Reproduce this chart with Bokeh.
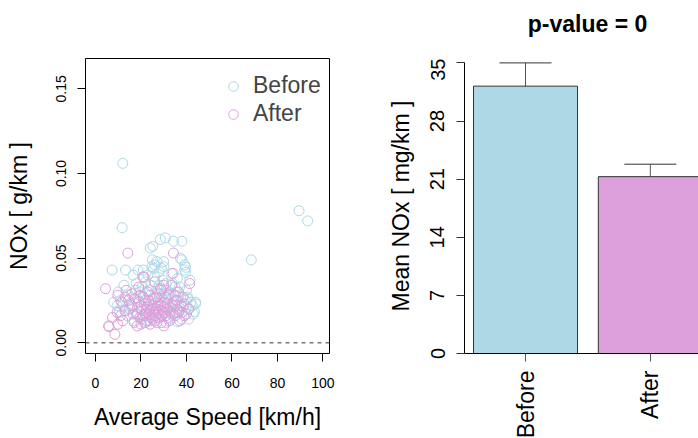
import math
from bokeh.plotting import figure
from bokeh.layouts import row, column
from bokeh.models import (Range1d, FixedTicker, Span, Legend, LegendItem, Whisker,
                          TeeHead, ColumnDataSource, NumeralTickFormatter)
from bokeh.core.properties import value
from bokeh.embed import file_html
from bokeh.resources import INLINE

FONT = "Liberation Sans"

# ---------------- data ----------------
before_speed = [12.0, 11.7, 68.5, 89.5, 93.3,
                24.1, 25.2, 28.5, 30.7, 34.3, 38.0,
                7.3, 13.2, 18.7, 30.0, 30.0, 37.3, 39.2, 39.2, 25.5, 26.0, 24.8, 16.5, 12.5,
                33.5, 36.0, 41.5, 40.0, 22.0, 28.0, 31.5, 35.0,
                11.0, 14.5, 17.0, 19.5, 21.0, 23.5, 26.5, 29.0, 32.0, 34.5, 37.5, 39.5, 42.0,
                44.0, 41.0, 43.0, 38.0, 35.0, 30.5, 27.5, 24.0, 20.0, 16.0, 13.0, 10.5, 18.5,
                22.5, 26.0, 29.5, 33.0, 36.5, 40.5, 15.0, 9.5, 21.5, 31.0, 37.0, 28.5, 25.0, 19.0,
                42.5, 44.0, 43.5, 41.0, 40.5, 39.6, 39.6, 38.0, 36.0, 8.0, 10.0, 12.0, 14.0, 17.5,
                18.0, 20.5, 22.0, 23.0, 24.5, 26.0, 27.0, 29.5, 31.0, 33.0, 34.0, 35.5, 37.0, 38.5,
                36.0, 32.5, 27.0, 24.0, 20.0, 17.0, 22.0, 26.0, 30.0, 34.0, 28.0, 21.0, 25.0, 27.0, 29.0]
before_nox = [0.106, 0.068, 0.049, 0.078, 0.072,
              0.056, 0.057, 0.061, 0.062, 0.060, 0.060,
              0.043, 0.043, 0.043, 0.048, 0.045, 0.050, 0.046, 0.043, 0.044, 0.046, 0.045, 0.040, 0.034,
              0.041, 0.038, 0.037, 0.031, 0.036, 0.034, 0.031, 0.033,
              0.025, 0.028, 0.026, 0.030, 0.027, 0.031, 0.029, 0.027, 0.026, 0.028, 0.027, 0.025, 0.024,
              0.023, 0.020, 0.017, 0.014, 0.018, 0.021, 0.023, 0.020, 0.022, 0.021, 0.019, 0.018, 0.017,
              0.016, 0.018, 0.016, 0.014, 0.022, 0.027, 0.023, 0.022, 0.012, 0.012, 0.019, 0.025, 0.026, 0.024,
              0.022, 0.024, 0.0185, 0.014, 0.026, 0.0446, 0.0416, 0.049, 0.0124, 0.024, 0.030, 0.022, 0.016, 0.031,
              0.035, 0.033, 0.029, 0.040, 0.034, 0.039, 0.032, 0.037, 0.035, 0.029, 0.024, 0.030, 0.033, 0.021,
              0.025, 0.019, 0.015, 0.013, 0.014, 0.013, 0.025, 0.022, 0.029, 0.035, 0.042, 0.043, 0.049, 0.048, 0.044]

after_speed = [4.4, 14.2, 34.3, 41.4, 34.1, 5.8, 8.5, 9.8, 9.5, 20.9, 30.0, 12.0, 11.5, 13.5,
               15.0, 16.5, 17.5, 18.5, 19.5, 20.5, 21.5, 22.0, 22.5, 23.0, 23.5, 24.0, 24.5, 25.0,
               25.5, 26.0, 26.5, 27.0, 27.5, 28.0, 28.5, 29.0, 29.5, 30.5, 31.0, 31.5, 32.0, 32.5,
               33.0, 34.0, 35.0, 35.5, 36.0, 37.0, 38.0, 39.0, 40.0, 41.0, 26.0, 30.0, 23.0, 19.0,
               36.5, 28.0, 21.0, 33.5, 17.0, 20.0, 24.0, 27.0, 29.0, 16.0, 7.5, 38.5,
               5.9, 9.8, 18.3, 22.0, 13.0, 14.5, 16.0, 18.0, 19.0, 20.0, 21.0, 22.5, 23.5, 24.0,
               25.0, 25.5, 26.5, 27.5, 28.0, 29.0, 30.0, 30.5, 31.5, 32.0, 33.0, 34.0, 35.0, 36.5,
               37.5, 39.0, 24.0, 26.0, 31.0, 35.0, 19.5, 13.0, 11.0, 28.6, 21.3]
after_nox = [0.032, 0.053, 0.053, 0.035, 0.041, 0.010, 0.005, 0.028, 0.018, 0.039, 0.010, 0.013, 0.024, 0.031,
             0.020, 0.017, 0.026, 0.021, 0.015, 0.019, 0.023, 0.017, 0.013, 0.021, 0.025, 0.019, 0.015, 0.022,
             0.017, 0.013, 0.020, 0.027, 0.018, 0.015, 0.022, 0.031, 0.019, 0.024, 0.016, 0.020, 0.028, 0.013,
             0.018, 0.022, 0.016, 0.025, 0.020, 0.013, 0.018, 0.023, 0.017, 0.020, 0.036, 0.034, 0.030, 0.033,
             0.030, 0.029, 0.027, 0.034, 0.012, 0.011, 0.011, 0.012, 0.012, 0.029, 0.015, 0.027,
             0.0096, 0.011, 0.010, 0.012, 0.019, 0.025, 0.022, 0.017, 0.024, 0.020, 0.016, 0.020, 0.017, 0.023,
             0.014, 0.020, 0.016, 0.022, 0.019, 0.016, 0.021, 0.018, 0.023, 0.015, 0.021, 0.017, 0.022, 0.018,
             0.022, 0.016, 0.028, 0.026, 0.027, 0.028, 0.028, 0.027, 0.016, 0.032, 0.0388]

x_ticks = [0, 20, 40, 60, 80, 100]
y_ticks = [0.0, 0.05, 0.10, 0.15]

groups = ["Before", "After"]
mean_nox = [32.2, 21.3]
err_low = [29.5, 19.8]
err_high = [35.0, 22.8]
bar_y_ticks = [0, 7, 14, 21, 28, 35]
colors = ["#ADD8E6", "#DDA0DD"]
title_text = "p-value = 0"

# ---------------- left: scatter ----------------
p1 = figure(frame_width=244, frame_height=295, min_border_left=85, min_border_right=41,
            min_border_top=58, min_border_bottom=85,
            x_range=Range1d(-4.4, 102.9), y_range=Range1d(-0.0063, 0.1679),
            output_backend="svg", toolbar_location=None)
p1.grid.visible = False
p1.outline_line_color = "black"
p1.outline_line_alpha = 1.0
p1.background_fill_color = "white"
p1.border_fill_color = "white"

r_before = p1.scatter(before_speed, before_nox, marker="circle", size=10,
                      fill_color=None, line_color=colors[0], line_width=1)
r_after = p1.scatter(after_speed, after_nox, marker="circle", size=10,
                     fill_color=None, line_color=colors[1], line_width=1)
p1.add_layout(Span(location=0, dimension="width", line_dash="4 4",
                   line_color="#333333", line_width=1))

for ax in (p1.xaxis[0], p1.yaxis[0]):
    ax.axis_line_color = None
    ax.major_tick_out = 8
    ax.major_tick_in = 0
    ax.minor_tick_line_color = None
    ax.major_label_text_font = FONT
    ax.major_label_text_font_size = "14px"
    ax.major_label_text_color = "black"
    ax.axis_label_text_font = FONT
    ax.axis_label_text_font_size = "23px"
    ax.axis_label_text_font_style = "normal"
    ax.axis_label_text_color = "black"

p1.xaxis.ticker = FixedTicker(ticks=x_ticks)
p1.xaxis.axis_label = "Average Speed [km/h]"
p1.xaxis.major_label_standoff = 16
p1.xaxis.axis_label_standoff = 13
p1.yaxis.ticker = FixedTicker(ticks=y_ticks)
p1.yaxis.formatter = NumeralTickFormatter(format="0.00")
p1.yaxis.major_label_orientation = "vertical"
p1.yaxis.axis_label = "NOx [ g/km ]"
p1.yaxis.major_label_standoff = 11
p1.yaxis.axis_label_standoff = 22

legend = Legend(items=[LegendItem(label=groups[0], renderers=[r_before]),
                       LegendItem(label=groups[1], renderers=[r_after])],
                location=(136, 226), padding=0, margin=0, spacing=1,
                glyph_width=24, glyph_height=24, label_height=24, label_standoff=8,
                label_text_font=FONT, label_text_font_size="23px",
                background_fill_alpha=0, border_line_color=None)
p1.add_layout(legend)

# ---------------- right: title strip (frame aligned with the bar plot frame) ----------------
pt = figure(frame_width=234, frame_height=58, min_border_left=94, min_border_right=0,
            min_border_top=0, min_border_bottom=0,
            x_range=Range1d(0, 234), y_range=Range1d(0, 58),
            x_axis_location=None, y_axis_location=None,
            output_backend="svg", toolbar_location=None)
pt.grid.visible = False
pt.outline_line_color = None
pt.background_fill_color = "white"
pt.border_fill_color = "white"
pt.text(x=[123], y=[35], text=[title_text], text_align="center", text_baseline="middle",
        text_font=value(FONT), text_font_size="23px", text_font_style="bold",
        text_color="black")

# ---------------- right: bars ----------------
bar_x = [i + 1 for i in range(len(groups))]
p2 = figure(frame_width=234, frame_height=295, min_border_left=94, min_border_right=0,
            min_border_top=0, min_border_bottom=85,
            x_range=Range1d(0.511, 2.386), y_range=Range1d(0, 35.53),
            output_backend="svg", toolbar_location=None)
p2.grid.visible = False
p2.outline_line_color = None
p2.background_fill_color = "white"
p2.border_fill_color = "white"

src = ColumnDataSource(dict(x=bar_x, top=mean_nox, lo=err_low, hi=err_high, color=colors))
p2.vbar(x="x", top="top", bottom=0, width=1 / 1.2, fill_color="color",
        line_color="#333333", line_width=1, source=src)
p2.add_layout(Whisker(source=src, base="x", lower="lo", upper="hi", dimension="height",
                      line_color="#555555", line_width=1,
                      upper_head=TeeHead(size=52, line_color="#333333", line_width=1),
                      lower_head=TeeHead(size=52, line_color="#333333", line_width=1)))

for ax in (p2.xaxis[0], p2.yaxis[0]):
    ax.major_tick_out = 8
    ax.major_tick_in = 0
    ax.minor_tick_line_color = None
    ax.axis_line_color = "black"
    ax.major_label_text_font = FONT
    ax.major_label_text_color = "black"
    ax.axis_label_text_font = FONT
    ax.axis_label_text_font_size = "23px"
    ax.axis_label_text_font_style = "normal"
    ax.axis_label_text_color = "black"

p2.yaxis.ticker = FixedTicker(ticks=bar_y_ticks)
p2.yaxis.bounds = (bar_y_ticks[0], bar_y_ticks[-1])
p2.yaxis.major_label_orientation = "vertical"
p2.yaxis.major_label_text_font_size = "20px"
p2.yaxis.major_label_standoff = 12
p2.yaxis.axis_label = "Mean NOx [ mg/km ]"
p2.yaxis.axis_label_standoff = 14
p2.yaxis.major_tick_line_color = "#333333"

p2.xaxis.ticker = FixedTicker(ticks=bar_x)
p2.xaxis.major_label_overrides = {x: g for x, g in zip(bar_x, groups)}
p2.xaxis.major_label_orientation = math.pi / 2
p2.xaxis.major_label_text_font_size = "23px"
p2.xaxis.major_label_standoff = 9
p2.xaxis.major_tick_line_color = "#555555"

layout = row(p1, column(pt, p2))
open("out.html", "w").write(file_html(layout, INLINE))
